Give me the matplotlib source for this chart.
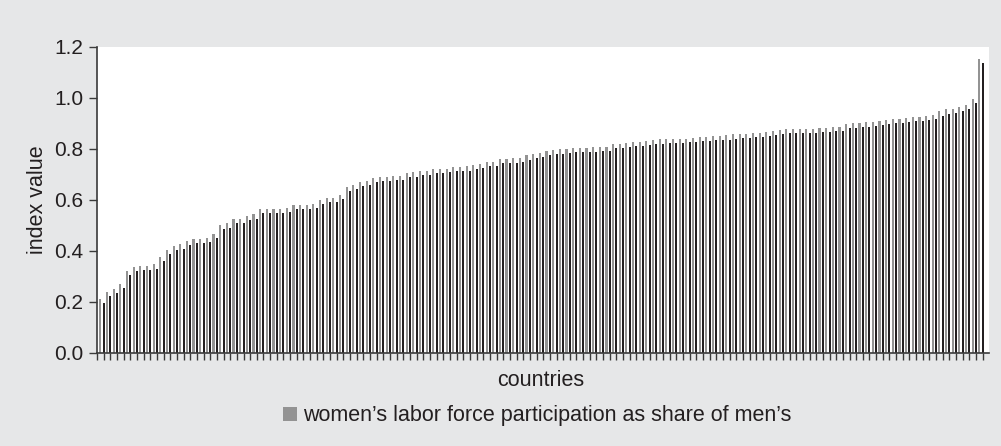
import matplotlib
matplotlib.use("Agg")
import matplotlib.pyplot as plt
from matplotlib.patches import Patch

# ---- data ----
grey_vals = [
    0.209, 0.240, 0.251, 0.270, 0.320, 0.337, 0.339, 0.341, 0.349, 0.374,
    0.401, 0.418, 0.425, 0.437, 0.447, 0.447, 0.451, 0.465, 0.502, 0.507,
    0.525, 0.525,
    0.537, 0.542, 0.562, 0.562, 0.562, 0.565, 0.567, 0.578, 0.580, 0.580,
    0.583, 0.600, 0.605, 0.608, 0.620, 0.650, 0.659, 0.669, 0.675, 0.685,
    0.688, 0.690,
    0.694, 0.693, 0.705, 0.707, 0.711, 0.714, 0.719, 0.722, 0.722, 0.727,
    0.727, 0.731, 0.737, 0.741, 0.748, 0.748, 0.759, 0.759, 0.762, 0.765,
    0.774, 0.778, 0.782,
    0.791, 0.795, 0.797, 0.800, 0.803, 0.804, 0.804, 0.805, 0.805, 0.806,
    0.820, 0.820, 0.821, 0.825, 0.827, 0.830, 0.834, 0.837, 0.839, 0.839,
    0.839, 0.840,
    0.843, 0.847, 0.847, 0.850, 0.851, 0.852, 0.856, 0.858, 0.859, 0.860,
    0.861, 0.864, 0.868, 0.873, 0.876, 0.876, 0.877, 0.877, 0.878, 0.880,
    0.882, 0.885, 0.886, 0.897, 0.899, 0.901, 0.903, 0.906, 0.910, 0.912,
    0.915, 0.918, 0.920, 0.923, 0.925, 0.929, 0.932, 0.946, 0.954, 0.957,
    0.963, 0.973, 0.993, 1.150,
]
black_vals = [
    0.193, 0.224, 0.233, 0.255, 0.305, 0.320, 0.323, 0.325, 0.330, 0.358,
    0.387, 0.403, 0.408, 0.421, 0.429, 0.431, 0.435, 0.448, 0.485, 0.490,
    0.510, 0.510,
    0.520, 0.525, 0.546, 0.546, 0.546, 0.549, 0.552, 0.562, 0.565, 0.565,
    0.566, 0.584, 0.590, 0.590, 0.603, 0.634, 0.643, 0.655, 0.659, 0.669,
    0.673, 0.675,
    0.677, 0.677, 0.689, 0.690, 0.695, 0.698, 0.703, 0.706, 0.707, 0.711,
    0.711, 0.714, 0.720, 0.724, 0.732, 0.732, 0.742, 0.745, 0.745, 0.748,
    0.757, 0.762, 0.766,
    0.775, 0.778, 0.780, 0.783, 0.786, 0.788, 0.788, 0.788, 0.790, 0.791,
    0.804, 0.804, 0.805, 0.809, 0.810, 0.813, 0.817, 0.820, 0.822, 0.822,
    0.824, 0.825,
    0.827, 0.831, 0.831, 0.834, 0.835, 0.836, 0.840, 0.842, 0.843, 0.844,
    0.845, 0.848, 0.852, 0.857, 0.860, 0.860, 0.861, 0.861, 0.862, 0.864,
    0.866, 0.869, 0.870, 0.881, 0.883, 0.885, 0.887, 0.890, 0.894, 0.896,
    0.899, 0.902, 0.904, 0.907, 0.909, 0.913, 0.916, 0.930, 0.938, 0.941,
    0.948, 0.957, 0.980, 1.135,
]
y_ticks = [0.0, 0.2, 0.4, 0.6, 0.8, 1.0, 1.2]
y_label = "index value"
x_label = "countries"
legend_label = "women\u2019s labor force participation as share of men\u2019s"

# ---- style ----
BG = "#e6e7e8"
GREY = "#939393"
BLACK = "#231f20"
AXC = "#3a3a3a"
TXT = "#231f20"
FONT = ["Liberation Sans", "DejaVu Sans"]
plt.rcParams["font.family"] = FONT

n = len(black_vals)
fig = plt.figure(figsize=(10.01, 4.46), dpi=100, facecolor=BG)
ax = fig.add_axes([97 / 1001, 1 - 352.7 / 446, (988.7 - 97) / 1001, (352.7 - 46.7) / 446])
ax.set_facecolor("white")

xg = [i + 0.5 for i in range(n)]
xb = [i + 1.0 for i in range(n)]
ax.bar(xg, grey_vals, width=0.32, color=GREY, linewidth=0)
ax.bar(xb, black_vals, width=0.3, color=BLACK, linewidth=0)

ax.set_xlim(0, 133.9)
ax.set_ylim(0, 1.2)
ax.set_xticks(range(n + 1))
ax.set_xticklabels([])
ax.set_yticks(y_ticks)
ax.set_yticklabels([f"{v:.1f}" for v in y_ticks], fontsize=15, color=TXT)

for s in ["top", "right"]:
    ax.spines[s].set_visible(False)
for s in ["left", "bottom"]:
    ax.spines[s].set_color(AXC)
    ax.spines[s].set_linewidth(1.2)
ax.tick_params(axis="x", direction="out", length=5, width=1.0, color=AXC)
ax.tick_params(axis="y", direction="out", length=6, width=1.0, color=AXC, pad=4)

ax.set_ylabel(y_label, fontsize=15.5, color=TXT, labelpad=4.5)
fig.text(541 / 1001, 1 - 381 / 446, x_label, ha="center", va="center",
         fontsize=15.5, color=TXT)

leg = fig.legend(handles=[Patch(facecolor=GREY, edgecolor="none", label=legend_label)],
                 loc="center", bbox_to_anchor=(537 / 1001, 1 - 416 / 446),
                 frameon=False, fontsize=15.5, handlelength=0.68, handleheight=0.68,
                 handletextpad=0.25, borderpad=0)
for t in leg.get_texts():
    t.set_color(TXT)

fig.savefig("out.png", dpi=100, facecolor=BG)
